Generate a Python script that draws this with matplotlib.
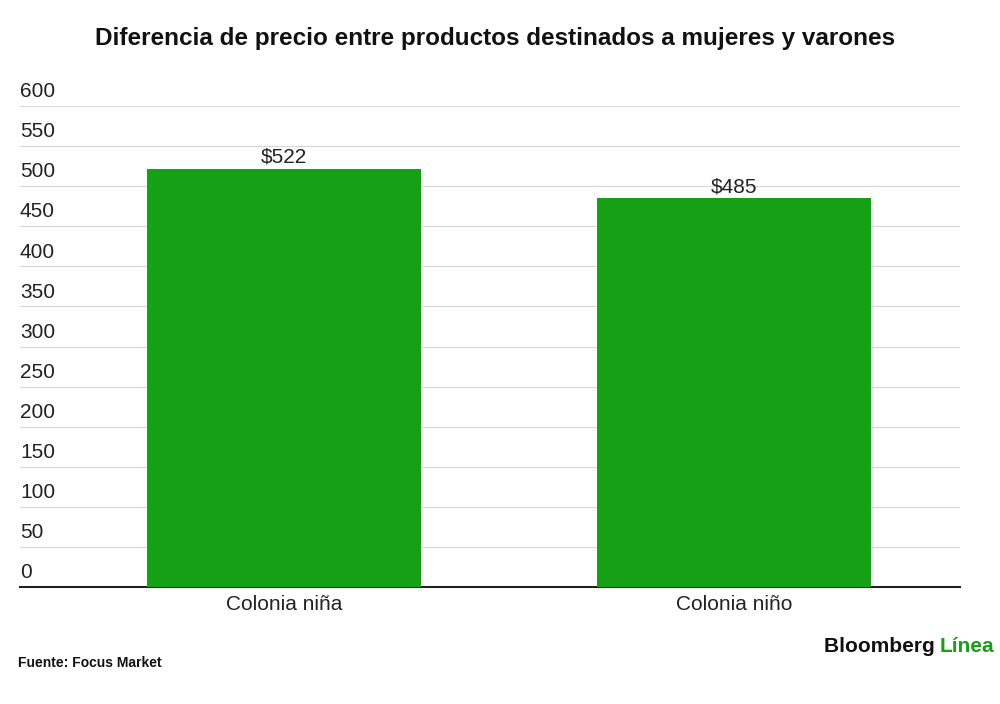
import matplotlib
matplotlib.use("Agg")
import matplotlib.pyplot as plt
from matplotlib.transforms import blended_transform_factory

CATEGORIES = ["Colonia niña", "Colonia niño"]
VALUES = [522, 485]
LABELS = ["$522", "$485"]
YTICKS = [0, 50, 100, 150, 200, 250, 300, 350, 400, 450, 500, 550, 600]

GREEN = "#16a016"

plt.rcParams["font.family"] = ["Liberation Sans", "DejaVu Sans"]

fig = plt.figure(figsize=(10, 7.04), dpi=100)
ax = fig.add_axes([0.02, 0.1662, 0.94, 0.6832])

x = range(len(CATEGORIES))
ax.bar(x, VALUES, width=0.61, color=GREEN, zorder=3)
for xi, v, lab in zip(x, VALUES, LABELS):
    ax.text(xi, v + 2, lab, ha="center", va="bottom", fontsize=15, color="#222222", zorder=4)

ax.set_xlim(-0.587, 1.502)
ax.set_ylim(0, 600)
for t in YTICKS[1:]:
    ax.axhline(t, color="#d9d9d9", linewidth=0.9, zorder=1)

trans = blended_transform_factory(ax.transAxes, ax.transData)
for t in YTICKS:
    ax.text(0.0, t + 6, str(t), transform=trans, ha="left", va="bottom",
            fontsize=15, color="#222222")

ax.set_yticks([])
ax.set_xticks(list(x))
ax.set_xticklabels(CATEGORIES, fontsize=15, color="#222222")
ax.tick_params(axis="x", length=0, pad=6)
for s in ["top", "right", "left"]:
    ax.spines[s].set_visible(False)
ax.spines["bottom"].set_linewidth(1.5)
ax.spines["bottom"].set_color("#222222")
ax.set_facecolor("none")

fig.text(0.495, 0.945, "Diferencia de precio entre productos destinados a mujeres y varones",
         ha="center", va="center", fontsize=17.5, fontweight="bold", color="#111111")
fig.text(0.018, 0.058, "Fuente: Focus Market", ha="left", va="center",
         fontsize=10, fontweight="bold", color="#111111")
fig.text(0.94, 0.081, "Bloomberg ", ha="right", va="center",
         fontsize=15, fontweight="bold", color="#111111")
fig.text(0.94, 0.081, "Línea", ha="left", va="center",
         fontsize=15, fontweight="bold", color=GREEN)

fig.savefig("out.png", dpi=100)
